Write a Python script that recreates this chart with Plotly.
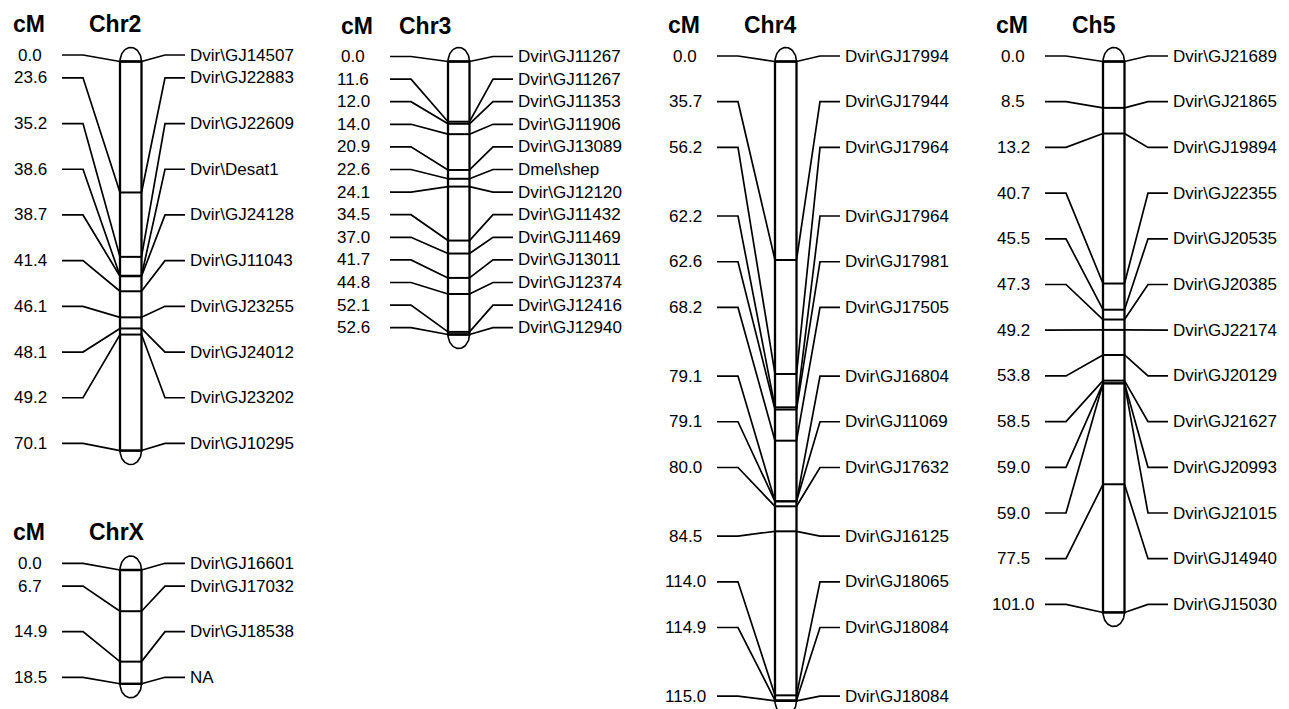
import plotly.graph_objects as go
import numpy as np

W, H = 1289, 709

# ---------------- data (cM positions, marker names, label rows) ----------------
chr2_cm = [0.0, 23.6, 35.2, 38.6, 38.7, 41.4, 46.1, 48.1, 49.2, 70.1]
chr2_names = ["Dvir\\GJ14507", "Dvir\\GJ22883", "Dvir\\GJ22609", "Dvir\\Desat1", "Dvir\\GJ24128",
              "Dvir\\GJ11043", "Dvir\\GJ23255", "Dvir\\GJ24012", "Dvir\\GJ23202", "Dvir\\GJ10295"]
chr2_rows = [0, 1, 3, 5, 7, 9, 11, 13, 15, 17]

chr3_cm = [0.0, 11.6, 12.0, 14.0, 20.9, 22.6, 24.1, 34.5, 37.0, 41.7, 44.8, 52.1, 52.6]
chr3_names = ["Dvir\\GJ11267", "Dvir\\GJ11267", "Dvir\\GJ11353", "Dvir\\GJ11906", "Dvir\\GJ13089",
              "Dmel\\shep", "Dvir\\GJ12120", "Dvir\\GJ11432", "Dvir\\GJ11469", "Dvir\\GJ13011",
              "Dvir\\GJ12374", "Dvir\\GJ12416", "Dvir\\GJ12940"]
chr3_rows = list(range(13))

chr4_cm = [0.0, 35.7, 56.2, 62.2, 62.6, 68.2, 79.1, 79.1, 80.0, 84.5, 114.0, 114.9, 115.0]
chr4_names = ["Dvir\\GJ17994", "Dvir\\GJ17944", "Dvir\\GJ17964", "Dvir\\GJ17964", "Dvir\\GJ17981",
              "Dvir\\GJ17505", "Dvir\\GJ16804", "Dvir\\GJ11069", "Dvir\\GJ17632", "Dvir\\GJ16125",
              "Dvir\\GJ18065", "Dvir\\GJ18084", "Dvir\\GJ18084"]
chr4_rows = [0, 2, 4, 7, 9, 11, 14, 16, 18, 21, 23, 25, 28]

chr5_cm = [0.0, 8.5, 13.2, 40.7, 45.5, 47.3, 49.2, 53.8, 58.5, 59.0, 59.0, 77.5, 101.0]
chr5_names = ["Dvir\\GJ21689", "Dvir\\GJ21865", "Dvir\\GJ19894", "Dvir\\GJ22355", "Dvir\\GJ20535",
              "Dvir\\GJ20385", "Dvir\\GJ22174", "Dvir\\GJ20129", "Dvir\\GJ21627", "Dvir\\GJ20993",
              "Dvir\\GJ21015", "Dvir\\GJ14940", "Dvir\\GJ15030"]
chr5_rows = [0, 2, 4, 6, 8, 10, 12, 14, 16, 18, 20, 22, 24]

chrX_cm = [0.0, 6.7, 14.9, 18.5]
chrX_names = ["Dvir\\GJ16601", "Dvir\\GJ17032", "Dvir\\GJ18538", "NA"]
chrX_rows = [0, 1, 3, 5]

chrom_titles = ["Chr2", "Chr3", "Chr4", "Ch5", "ChrX"]
chrom_cm = [chr2_cm, chr3_cm, chr4_cm, chr5_cm, chrX_cm]
chrom_names = [chr2_names, chr3_names, chr4_names, chr5_names, chrX_names]
chrom_rows = [chr2_rows, chr3_rows, chr4_rows, chr5_rows, chrX_rows]

# ---------------- layout (pixel geometry of each panel) ----------------
panel = [
    dict(bar_left=120, top=61.5, scale=5.55, base=55.0, slot=22.85, num_dx=-90, title_dx=-33),
    dict(bar_left=448, top=61.5, scale=5.19, base=56.5, slot=22.6, num_dx=-95, title_dx=-51),
    dict(bar_left=775, top=61.5, scale=5.56, base=56.0, slot=22.86, num_dx=-90, title_dx=-33),
    dict(bar_left=1103, top=61.5, scale=5.455, base=56.0, slot=22.85, num_dx=-90, title_dx=-33),
    dict(bar_left=120, top=570.0, scale=6.15, base=563.3, slot=22.8, num_dx=-90, title_dx=-33),
]
BAR_W = 21.5
CAP_H = 14.0
LABEL_FONT = dict(family="Liberation Sans, Arial, sans-serif", size=17, color="black")
TITLE_FONT = dict(family="Liberation Sans, Arial, sans-serif", size=23, color="black")

fig = go.Figure()
annotations = []
layout_axes = {}

for i, (title, cms, names, rows, p) in enumerate(zip(chrom_titles, chrom_cm, chrom_names, chrom_rows, panel)):
    k = i + 1
    yname = "y" if k == 1 else f"y{k}"
    axkey = "yaxis" if k == 1 else f"yaxis{k}"
    top, sc = p["top"], p["scale"]
    ax = dict(range=[(H - top) / sc, (0 - top) / sc], domain=[0, 1], visible=False,
              showgrid=False, zeroline=False, fixedrange=True)
    if k > 1:
        ax.update(overlaying="y", anchor="x")
    layout_axes[axkey] = ax

    def px2cm(px):
        return (px - top) / sc

    B = p["bar_left"]
    L = max(cms)
    label_y = [px2cm(p["base"] + r * p["slot"]) for r in rows]

    # connectors
    cx, cy = [], []
    for v, yl in zip(cms, label_y):
        cx += [B - 58, B - 37, B, None, B + BAR_W, B + 45, B + 65, None]
        cy += [yl, yl, v, None, v, yl, yl, None]
    fig.add_trace(go.Scatter(x=cx, y=cy, yaxis=yname, mode="lines",
                             line=dict(color="black", width=1.7), hoverinfo="skip", showlegend=False))
    # marker lines across the bar
    mx, my = [], []
    for v in cms:
        mx += [B, B + BAR_W, None]
        my += [v, v, None]
    fig.add_trace(go.Scatter(x=mx, y=my, yaxis=yname, mode="lines",
                             line=dict(color="black", width=2), hoverinfo="skip", showlegend=False))
    # bar outline
    fig.add_trace(go.Scatter(x=[B, B + BAR_W, B + BAR_W, B, B], y=[0, 0, L, L, 0], yaxis=yname,
                             mode="lines", line=dict(color="black", width=2.3),
                             hoverinfo="skip", showlegend=False))
    # end caps
    t = np.linspace(0, np.pi, 40)
    capx = list(B + BAR_W / 2 + BAR_W / 2 * np.cos(t))
    ch = CAP_H / sc
    fig.add_trace(go.Scatter(x=capx + [None] + capx,
                             y=list(0 - ch * np.sin(t)) + [None] + list(L + ch * np.sin(t)),
                             yaxis=yname, mode="lines", line=dict(color="black", width=1.6),
                             hoverinfo="skip", showlegend=False))

    # labels
    for v, nm, yl in zip(cms, names, label_y):
        annotations.append(dict(x=B + p["num_dx"], y=yl, xref="x", yref=yname, text=f"{v:.1f}",
                                showarrow=False, xanchor="center", yanchor="middle", font=LABEL_FONT))
        annotations.append(dict(x=B + 68, y=yl, xref="x", yref=yname, text=nm,
                                showarrow=False, xanchor="left", yanchor="middle", font=LABEL_FONT))
    ty = px2cm(p["base"] - 31)
    annotations.append(dict(x=B - 109, y=ty, xref="x", yref=yname, text="<b>cM</b>",
                            showarrow=False, xanchor="left", yanchor="middle", font=TITLE_FONT))
    annotations.append(dict(x=B + p["title_dx"], y=ty, xref="x", yref=yname, text=f"<b>{title}</b>",
                            showarrow=False, xanchor="left", yanchor="middle", font=TITLE_FONT))

fig.update_layout(
    width=W, height=H, autosize=False,
    margin=dict(l=0, r=0, t=0, b=0, pad=0),
    paper_bgcolor="white", plot_bgcolor="white",
    xaxis=dict(range=[0, W], domain=[0, 1], visible=False, showgrid=False, zeroline=False, fixedrange=True),
    annotations=annotations,
    showlegend=False,
    **layout_axes,
)

fig.write_html("out.html", config={"displayModeBar": False},
               post_script="document.body.style.margin='0';")
